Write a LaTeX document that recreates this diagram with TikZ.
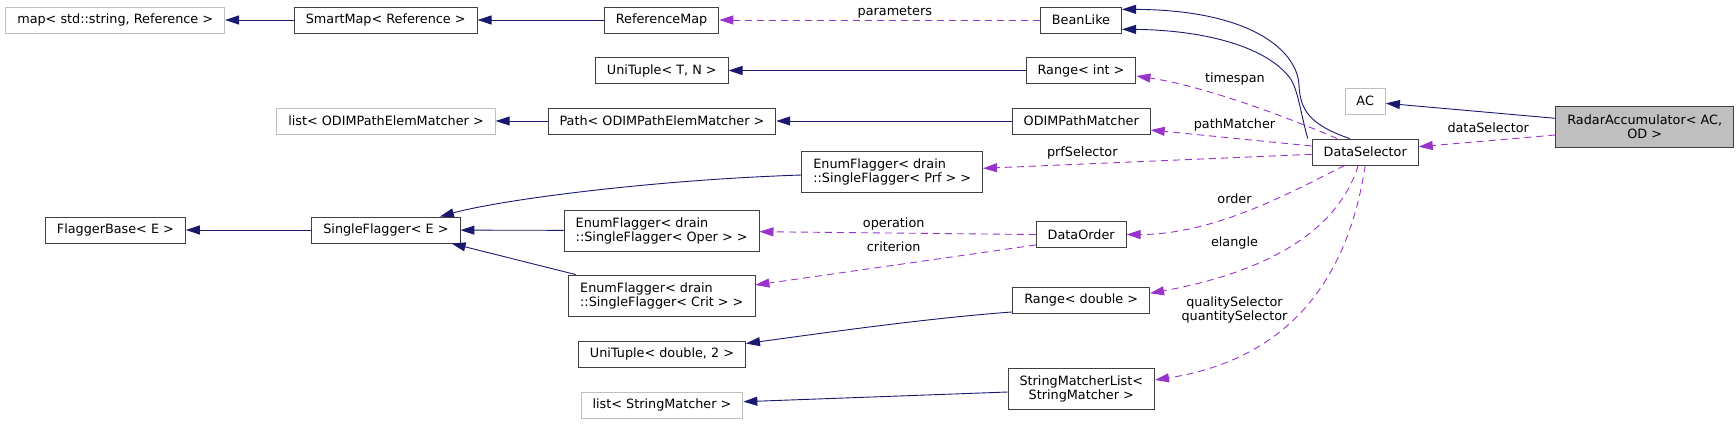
\documentclass[tikz,border=0pt]{standalone}
\usepackage{fontspec}
\setmainfont{DejaVu Sans}
\usepackage{xcolor}
\usepackage{tikz}
\usetikzlibrary{arrows.meta,positioning}
\definecolor{InhBlue}{RGB}{25,25,112}
\definecolor{UsePurple}{RGB}{154,50,205}
\definecolor{ExtGray}{RGB}{191,191,191}
\definecolor{BoxLine}{RGB}{64,64,64}
\tikzset{
  cls/.style={draw=BoxLine,fill=white,line width=0.9pt,inner xsep=11.5pt,inner ysep=0pt,
    minimum height=26pt,font=\fontsize{12.8}{14}\selectfont},
  ext/.style={cls,draw=ExtGray},
  twol/.style={cls,minimum height=41pt,align=left},
  twoc/.style={cls,minimum height=41pt,align=center},
  lbl/.style={inner sep=0pt,align=center,font=\fontsize{12.8}{14}\selectfont},
  inh/.style={InhBlue,line width=0.9pt,-{Triangle[length=14pt,width=9pt]}},
  uses/.style={UsePurple,line width=0.9pt,dash pattern=on 7pt off 5pt,-{Triangle[length=14pt,width=9pt]}}
}
\begin{document}
\begin{tikzpicture}[x=1pt,y=-1pt]
  \useasboundingbox (0,0) rectangle (1736,424);

  % classes
  \node[ext] (map) at (115.2,20) {map< std::string, Reference >};
  \node[cls] (smartmap) at (385.7,20) {SmartMap< Reference >};
  \node[cls] (refmap) at (661.6,20) {ReferenceMap};
  \node[cls] (bean) at (1081,20) {BeanLike};
  \node[cls] (unitn) at (661.8,70.5) {UniTuple< T, N >};
  \node[cls] (rint) at (1081,70.5) {Range< int >};
  \node[ext] (listodim) at (386,121) {list< ODIMPathElemMatcher >};
  \node[cls] (pathm) at (661.9,121) {Path< ODIMPathElemMatcher >};
  \node[cls] (odim) at (1081.2,121) {ODIMPathMatcher};
  \node[twol] (prf) at (892.2,172) {EnumFlagger< drain\\::SingleFlagger< Prf > >};
  \node[cls] (fbase) at (115.4,230) {FlaggerBase< E >};
  \node[cls] (sflag) at (385.9,230) {SingleFlagger< E >};
  \node[twol] (oper) at (661.6,230.5) {EnumFlagger< drain\\::SingleFlagger< Oper > >};
  \node[twol] (crit) at (661.8,295.5) {EnumFlagger< drain\\::SingleFlagger< Crit > >};
  \node[cls] (dorder) at (1081.2,234.5) {DataOrder};
  \node[cls] (rdbl) at (1081.2,300) {Range< double >};
  \node[cls] (unid) at (662,354) {UniTuple< double, 2 >};
  \node[ext] (listsm) at (662,405) {list< StringMatcher >};
  \node[twoc] (sml) at (1081.3,388.5) {StringMatcherList<\\StringMatcher >};
  \node[cls] (dsel) at (1365.2,152) {DataSelector};
  \node[ext] (ac) at (1365.2,101) {AC};
  \node[twoc,fill=ExtGray] (radar) at (1644.7,127) {RadarAccumulator< AC,\\OD >};

  % inheritance
  \draw[inh] (smartmap) -- (map);
  \draw[inh] (refmap) -- (smartmap);
  \draw[inh] (rint) -- (unitn);
  \draw[inh] (odim) -- (pathm);
  \draw[inh] (pathm) -- (listodim);
  \draw[inh] (oper) -- (sflag);
  \draw[inh] (sflag) -- (fbase);
  \draw[inh] ([yshift=-3pt]prf.west) .. controls (650,180) and (500,200) .. ([xshift=54pt]sflag.north);
  \draw[inh] ([xshift=7.5pt]crit.north west) -- ([xshift=65.7pt]sflag.south);
  \draw[inh] ([yshift=1.5pt]rdbl.south west) .. controls (930,318) and (830,332) .. ([yshift=-3pt]unid.north east);
  \draw[inh] ([yshift=-3.5pt]sml.west) -- ([yshift=3.3pt]listsm.east);
  \draw[inh] ([yshift=8.7pt]radar.west) -- ([yshift=-2.3pt]ac.east);
  \draw[inh] ([xshift=-15.5pt]dsel.north) .. controls (1310,125) and (1300,110) .. (1299,85)
    .. controls (1297,50) and (1250,10) .. ([yshift=10.7pt]bean.east);
  \draw[inh] ([xshift=-4pt]dsel.north west) .. controls (1300,110) and (1298,90) .. (1290,78)
    .. controls (1265,45) and (1200,30) .. ([yshift=-9.3pt]bean.east);

  % members
  \draw[uses] (bean) -- (refmap);
  \draw[uses] ([xshift=-28pt]dsel.north) .. controls (1270,110) and (1197,85) .. ([yshift=-5.5pt]rint.east);
  \draw[uses] ([yshift=6pt]dsel.west) -- ([yshift=-9pt]odim.east);
  \draw[uses] ([yshift=-2.3pt]dsel.west) -- ([yshift=3.7pt]prf.east);
  \draw[uses] ([yshift=-8pt]radar.west) -- ([yshift=5.3pt]dsel.east);
  \draw[uses] (dorder.west) -- ([yshift=-1.2pt]oper.east);
  \draw[uses] ([yshift=3pt]dorder.south west) -- ([yshift=10.5pt]crit.east);
  \draw[uses] ([xshift=-20.5pt]dsel.south) .. controls (1295,190) and (1216,234.5) .. (dorder.east);
  \draw[uses] ([xshift=-7pt]dsel.south) .. controls (1335,240) and (1250,275) .. ([yshift=6.7pt]rdbl.east);
  \draw[uses] (dsel.south) .. controls (1345,300) and (1270,362) .. ([yshift=8.5pt]sml.east);

  % labels
  \node[lbl] (l-param) at (894.8,12) {parameters};
  \node[lbl] (l-time) at (1234.9,79) {timespan};
  \node[lbl] (l-path) at (1234.5,125) {pathMatcher};
  \node[lbl] (l-prf) at (1082.3,153) {prfSelector};
  \node[lbl] (l-dsel) at (1488.2,128) {dataSelector};
  \node[lbl] (l-order) at (1234.5,199) {order};
  \node[lbl] (l-oper) at (893.7,224) {operation};
  \node[lbl] (l-crit) at (893.7,247) {criterion};
  \node[lbl] (l-elev) at (1234.5,243) {elangle};
  \node[lbl] (l-sel) at (1234.5,310) {qualitySelector\\quantitySelector};
\end{tikzpicture}
\end{document}
